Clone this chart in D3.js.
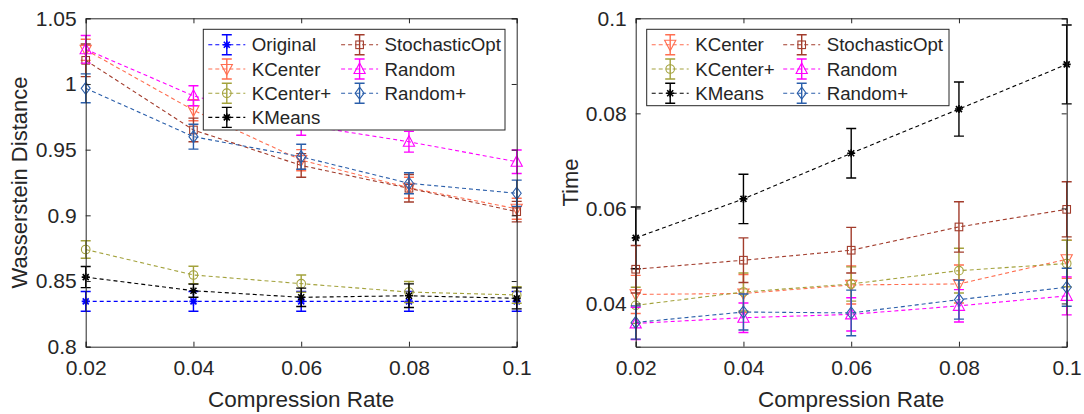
<!DOCTYPE html>
<html>
<head>
<meta charset="utf-8">
<script src="https://cdn.jsdelivr.net/npm/d3@7"></script>
<style>
  body { margin: 0; background: #fff; }
  svg text { font-family: "Liberation Sans", Arial, Helvetica, sans-serif; fill: #262626; }
</style>
</head>
<body>
<svg id="chart" width="1084" height="414"></svg>
<script>
// compression rates on the x axis
const rates = [0.02, 0.04, 0.06, 0.08, 0.1];
const rateLabels = ["0.02", "0.04", "0.06", "0.08", "0.1"];

// left panel: Wasserstein distance (mean, error)
const wdOriginal = [0.8345, 0.8345, 0.8345, 0.8345, 0.8345];
const wdOriginalErr = [0.0075, 0.0075, 0.0075, 0.0075, 0.0075];
const wdKCenter = [1.026, 0.980, 0.942, 0.921, 0.905];
const wdKCenterErr = [0.008, 0.008, 0.008, 0.008, 0.008];
const wdKCenterPlus = [0.874, 0.8546, 0.848, 0.8416, 0.8394];
const wdKCenterPlusErr = [0.0067, 0.0066, 0.0066, 0.008, 0.0063];
const wdKMeans = [0.853, 0.8426, 0.8376, 0.8388, 0.8368];
const wdKMeansErr = [0.008, 0.005, 0.007, 0.009, 0.008];
const wdStochastic = [1.018, 0.965, 0.938, 0.9206, 0.9028];
const wdStochasticErr = [0.0124, 0.009, 0.009, 0.0105, 0.0078];
const wdRandom = [1.0264, 0.991, 0.969, 0.956, 0.9408];
const wdRandomErr = [0.0105, 0.0076, 0.008, 0.0079, 0.0089];
const wdRandomPlus = [0.9967, 0.9599, 0.9446, 0.9244, 0.9168];
const wdRandomPlusErr = [0.011, 0.0095, 0.0095, 0.008, 0.010];
const wdTicks = [0.8, 0.85, 0.9, 0.95, 1, 1.05];
const wdTickLabels = ["0.8", "0.85", "0.9", "0.95", "1", "1.05"];

// right panel: time (mean, error)
const tKCenter = [0.0419, 0.0421, 0.0439, 0.0441, 0.0493];
const tKCenterErr = [0.004, 0.004, 0.004, 0.004, 0.004];
const tKCenterPlus = [0.0396, 0.0424, 0.0441, 0.0469, 0.0484];
const tKCenterPlusErr = [0.0038, 0.004, 0.0036, 0.0047, 0.0049];
const tKMeans = [0.0538, 0.0620, 0.0716, 0.0809, 0.0903];
const tKMeansErr = [0.0065, 0.0052, 0.0052, 0.0057, 0.0083];
const tStochastic = [0.0472, 0.0491, 0.0512, 0.0561, 0.0598];
const tStochasticErr = [0.005, 0.0047, 0.0048, 0.0053, 0.0058];
const tRandom = [0.0358, 0.037, 0.0377, 0.0395, 0.0416];
const tRandomErr = [0.0034, 0.0031, 0.0035, 0.0034, 0.004];
const tRandomPlus = [0.036, 0.0382, 0.038, 0.0408, 0.0434];
const tRandomPlusErr = [0.0035, 0.0038, 0.0048, 0.0041, 0.004];
const tTicks = [0.04, 0.06, 0.08, 0.1];
const tTickLabels = ["0.04", "0.06", "0.08", "0.1"];

const colors = {
  Original: "#0000ff",
  KCenter: "#ff6e50",
  "KCenter+": "#a3a23c",
  KMeans: "#000000",
  StochasticOpt: "#a23c2c",
  Random: "#ff00ff",
  "Random+": "#2a5eaa"
};
const markers = {
  Original: "star", KCenter: "tri-down", "KCenter+": "circle", KMeans: "star",
  StochasticOpt: "square", Random: "tri-up", "Random+": "diamond"
};

const leftSeries = [
  { name: "Original", mean: wdOriginal, err: wdOriginalErr },
  { name: "KCenter", mean: wdKCenter, err: wdKCenterErr },
  { name: "KCenter+", mean: wdKCenterPlus, err: wdKCenterPlusErr },
  { name: "KMeans", mean: wdKMeans, err: wdKMeansErr },
  { name: "StochasticOpt", mean: wdStochastic, err: wdStochasticErr },
  { name: "Random", mean: wdRandom, err: wdRandomErr },
  { name: "Random+", mean: wdRandomPlus, err: wdRandomPlusErr }
];
const rightSeries = [
  { name: "KCenter", mean: tKCenter, err: tKCenterErr },
  { name: "KCenter+", mean: tKCenterPlus, err: tKCenterPlusErr },
  { name: "KMeans", mean: tKMeans, err: tKMeansErr },
  { name: "StochasticOpt", mean: tStochastic, err: tStochasticErr },
  { name: "Random", mean: tRandom, err: tRandomErr },
  { name: "Random+", mean: tRandomPlus, err: tRandomPlusErr }
];

const svg = d3.select("#chart");
const axisColor = "#262626";

function drawMarker(g, type, cx, cy, color) {
  const s = 5;
  if (type === "circle") {
    g.append("circle").attr("cx", cx).attr("cy", cy).attr("r", 4.3)
      .attr("fill", "none").attr("stroke", color).attr("stroke-width", 1.1);
  } else if (type === "square") {
    g.append("rect").attr("x", cx - 3.8).attr("y", cy - 3.8).attr("width", 7.6).attr("height", 7.6)
      .attr("fill", "none").attr("stroke", color).attr("stroke-width", 1.1);
  } else if (type === "diamond") {
    g.append("path").attr("d", `M${cx},${cy - 6}L${cx + 4.5},${cy}L${cx},${cy + 6}L${cx - 4.5},${cy}Z`)
      .attr("fill", "none").attr("stroke", color).attr("stroke-width", 1.1);
  } else if (type === "tri-up") {
    g.append("path").attr("d", `M${cx},${cy - 6}L${cx + 5.6},${cy + 4.5}L${cx - 5.6},${cy + 4.5}Z`)
      .attr("fill", "none").attr("stroke", color).attr("stroke-width", 1.1);
  } else if (type === "tri-down") {
    g.append("path").attr("d", `M${cx},${cy + 6}L${cx + 5.6},${cy - 4.5}L${cx - 5.6},${cy - 4.5}Z`)
      .attr("fill", "none").attr("stroke", color).attr("stroke-width", 1.1);
  } else if (type === "star") {
    const r = 4;
    const d = [
      `M${cx - r},${cy}L${cx + r},${cy}`,
      `M${cx},${cy - r}L${cx},${cy + r}`,
      `M${cx - r * 0.75},${cy - r * 0.75}L${cx + r * 0.75},${cy + r * 0.75}`,
      `M${cx - r * 0.75},${cy + r * 0.75}L${cx + r * 0.75},${cy - r * 0.75}`
    ].join("");
    g.append("path").attr("d", d).attr("stroke", color).attr("stroke-width", 1.6);
  }
}

function drawErrorBar(g, cx, yTop, yBot, color) {
  const cap = 5;
  g.append("path")
    .attr("d", `M${cx},${yTop}L${cx},${yBot}M${cx - cap},${yTop}L${cx + cap},${yTop}M${cx - cap},${yBot}L${cx + cap},${yBot}`)
    .attr("stroke", color).attr("stroke-width", 1.4).attr("fill", "none");
}

function drawPanel(opts) {
  const { left, right, top, bottom, yDomain, yTicks, yTickLabels, yTitle, yTitleX, series, legend } = opts;
  const x = d3.scaleLinear().domain([0.02, 0.1]).range([left, right]);
  const y = d3.scaleLinear().domain(yDomain).range([bottom, top]);
  const g = svg.append("g");

  // marks
  const plot = g.append("g");
  const line = d3.line().x((d, i) => x(rates[i])).y(d => y(d));
  series.forEach(s => {
    const col = colors[s.name];
    plot.append("path").datum(s.mean).attr("d", line)
      .attr("fill", "none").attr("stroke", col).attr("stroke-width", 1.1)
      .attr("stroke-dasharray", "4,3");
    s.mean.forEach((m, i) => {
      drawErrorBar(plot, x(rates[i]), y(m + s.err[i]), y(m - s.err[i]), col);
      drawMarker(plot, markers[s.name], x(rates[i]), y(m), col);
    });
  });

  // axes with inward ticks on all four sides
  const xb = d3.axisBottom(x).tickValues(rates).tickFormat((d, i) => rateLabels[i]).tickSize(-5).tickPadding(13);
  const xt = d3.axisTop(x).tickValues(rates).tickFormat("").tickSize(-5);
  const yl = d3.axisLeft(y).tickValues(yTicks).tickFormat((d, i) => yTickLabels[i]).tickSize(-5).tickPadding(9);
  const yr = d3.axisRight(y).tickValues(yTicks).tickFormat("").tickSize(-5);
  [[xb, `translate(0,${bottom})`], [xt, `translate(0,${top})`], [yl, `translate(${left},0)`], [yr, `translate(${right},0)`]]
    .forEach(([ax, tr]) => {
      const a = g.append("g").attr("transform", tr).call(ax);
      a.select(".domain").attr("stroke", axisColor).attr("stroke-width", 1);
      a.selectAll(".tick line").attr("stroke", axisColor).attr("stroke-width", 1);
      a.selectAll(".tick text").attr("font-size", 21).attr("fill", axisColor)
        .attr("font-family", "Liberation Sans, Arial, sans-serif");
    });

  g.append("text").attr("x", (left + right) / 2).attr("y", 407).attr("text-anchor", "middle")
    .attr("font-size", 22.5).text("Compression Rate");
  g.append("text").attr("transform", `translate(${yTitleX},${(top + bottom) / 2}) rotate(-90)`)
    .attr("text-anchor", "middle").attr("font-size", 22).text(yTitle);

  // legend
  const lg = g.append("g");
  lg.append("rect").attr("x", legend.x).attr("y", legend.y).attr("width", legend.w).attr("height", legend.h)
    .attr("fill", "#fff").attr("stroke", axisColor).attr("stroke-width", 1);
  series.forEach((s, i) => {
    const col = Math.floor(i / legend.rows);
    const row = i % legend.rows;
    const lx = legend.x + 5 + col * legend.colW;
    const ly = legend.y + 15.5 + row * 24.2;
    const c = colors[s.name];
    lg.append("line").attr("x1", lx).attr("x2", lx + 37).attr("y1", ly).attr("y2", ly)
      .attr("stroke", c).attr("stroke-width", 1.1).attr("stroke-dasharray", "4,3");
    drawErrorBar(lg, lx + 18.5, ly - 10, ly + 10, c);
    drawMarker(lg, markers[s.name], lx + 18.5, ly, c);
    lg.append("text").attr("x", lx + 43.5).attr("y", ly + 6.5).attr("font-size", 18.7).text(s.name);
  });
}

drawPanel({
  left: 85.7, right: 516.7, top: 18.3, bottom: 346.7,
  yDomain: [0.8, 1.05], yTicks: wdTicks, yTickLabels: wdTickLabels,
  yTitle: "Wasserstein Distance", yTitleX: 27,
  series: leftSeries,
  legend: { x: 203.3, y: 29.3, w: 301.7, h: 100.7, rows: 4, colW: 132.8 }
});
drawPanel({
  left: 635.7, right: 1066.7, top: 18.3, bottom: 346.7,
  yDomain: [0.0309, 0.1], yTicks: tTicks, yTickLabels: tTickLabels,
  yTitle: "Time", yTitleX: 578,
  series: rightSeries,
  legend: { x: 646.7, y: 29.3, w: 302.3, h: 76.4, rows: 3, colW: 131.5 }
});
</script>
</body>
</html>
